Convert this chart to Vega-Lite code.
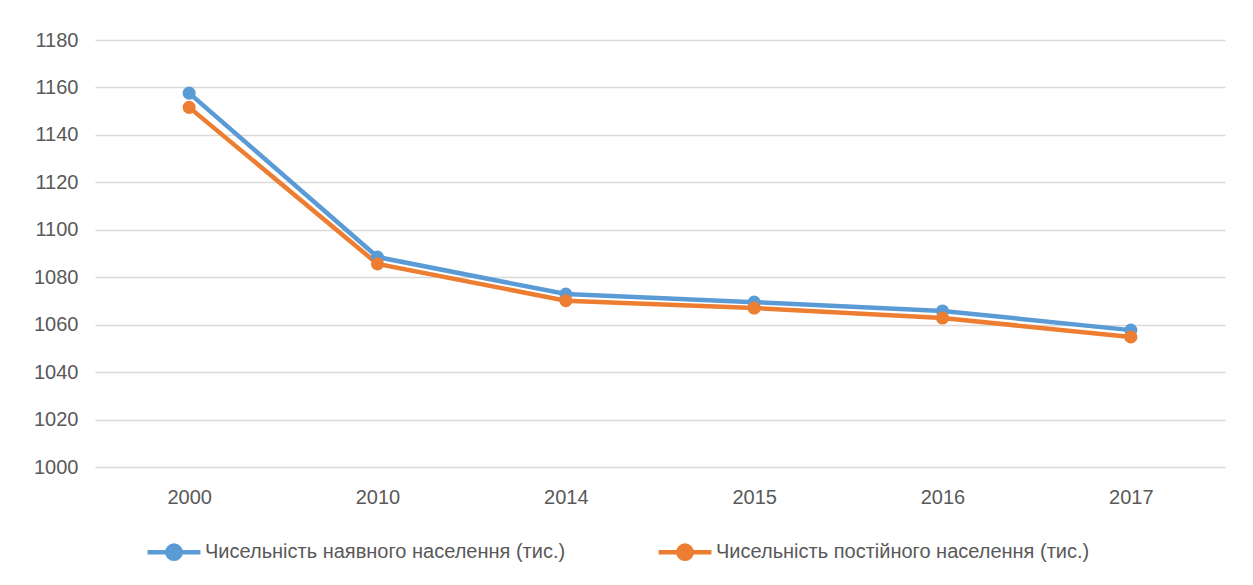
{
  "$schema": "https://vega.github.io/schema/vega-lite/v6.json",
  "width": 1130,
  "height": 427,
  "padding": {"left": 95, "top": 40, "right": 28, "bottom": 118},
  "autosize": {"type": "none"},
  "background": "white",
  "config": {
    "view": {"stroke": null},
    "font": "Liberation Sans",
    "axis": {"labelFont": "Liberation Sans", "labelFontSize": 20, "labelColor": "#595959", "domain": false, "ticks": false, "gridColor": "#d9d9d9", "gridWidth": 1.3},
    "legend": {"labelFont": "Liberation Sans", "labelFontSize": 20, "labelColor": "#595959", "padding": 0}
  },
  "data": {
    "values": [
      {"year": "2000", "series": "Чисельність наявного населення (тис.)", "value": 1157.6},
      {"year": "2010", "series": "Чисельність наявного населення (тис.)", "value": 1088.5},
      {"year": "2014", "series": "Чисельність наявного населення (тис.)", "value": 1072.9},
      {"year": "2015", "series": "Чисельність наявного населення (тис.)", "value": 1069.5},
      {"year": "2016", "series": "Чисельність наявного населення (тис.)", "value": 1065.8},
      {"year": "2017", "series": "Чисельність наявного населення (тис.)", "value": 1057.7},
      {"year": "2000", "series": "Чисельність постійного населення (тис.)", "value": 1151.6},
      {"year": "2010", "series": "Чисельність постійного населення (тис.)", "value": 1085.6},
      {"year": "2014", "series": "Чисельність постійного населення (тис.)", "value": 1070.1},
      {"year": "2015", "series": "Чисельність постійного населення (тис.)", "value": 1067.0},
      {"year": "2016", "series": "Чисельність постійного населення (тис.)", "value": 1062.8},
      {"year": "2017", "series": "Чисельність постійного населення (тис.)", "value": 1054.8}
    ]
  },
  "encoding": {
    "x": {"field": "year", "type": "ordinal", "title": null, "scale": {"type": "point", "padding": 0.5},
      "axis": {"labelAngle": 0, "grid": false, "labelPadding": 20}},
    "y": {"field": "value", "type": "quantitative", "title": null,
      "scale": {"domain": [1000, 1180], "nice": false, "zero": false},
      "axis": {"values": [1000, 1020, 1040, 1060, 1080, 1100, 1120, 1140, 1160, 1180], "format": "d", "labelPadding": 17}},
    "color": {"field": "series", "type": "nominal", "title": null,
      "scale": {"domain": ["Чисельність наявного населення (тис.)", "Чисельність постійного населення (тис.)"], "range": ["#5B9BD5", "#ED7D31"]},
      "legend": {"orient": "none", "legendX": 50, "legendY": 483, "direction": "horizontal", "labelLimit": 600, "columnPadding": 83, "labelOffset": 2,
        "symbolType": "M -1 0 L -0.25 0 A 0.25 0.25 0 1 1 0.25 0 L 1 0 L 0.25 0 A 0.25 0.25 0 1 1 -0.25 0 Z",
        "symbolSize": 2800, "symbolStrokeWidth": 4.5, "symbolFillColor": null}
    }
  },
  "layer": [
    {"mark": {"type": "line", "strokeWidth": 4.5}},
    {"mark": {"type": "point", "filled": true, "opacity": 1, "size": 170}}
  ]
}
